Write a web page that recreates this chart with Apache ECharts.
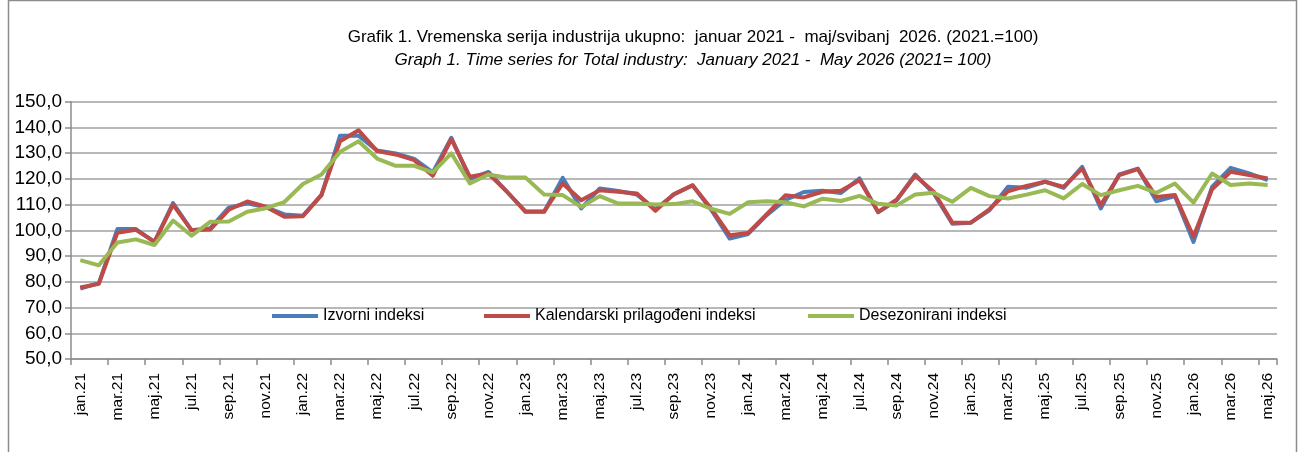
<!DOCTYPE html>
<html>
<head>
<meta charset="utf-8">
<script src="https://cdn.jsdelivr.net/npm/echarts@6/dist/echarts.min.js"></script>
<style>
html,body{margin:0;padding:0;background:#fff;}
#c{width:1302px;height:452px;}
</style>
</head>
<body>
<div id="c"></div>
<script>
const monthNames = ['jan','feb','mar','apr','maj','jun','jul','avg','sep','okt','nov','dec'];
const categories = [];
for (let y = 21; y <= 26; y++) {
  for (let m = 0; m < 12; m++) {
    if (y === 26 && m > 4) break;
    categories.push(monthNames[m] + '.' + y);
  }
}
const izvorni = [77.4,79.5,100.5,100.5,95.5,110.6,100.0,100.8,108.8,110.5,109.0,106.2,
  105.7,113.7,136.8,136.8,131.0,129.9,127.8,122.5,136.0,120.0,122.7,115.0,
  107.2,107.2,120.4,108.5,116.3,115.3,113.9,108.2,114.0,117.5,108.0,96.8,
  98.6,105.9,111.8,114.9,115.4,114.5,120.2,107.0,111.7,121.7,114.3,102.6,
  103.0,107.8,116.9,116.6,118.9,116.5,124.7,108.5,121.7,124.0,111.3,113.3,
  95.5,116.9,124.3,122.1,119.5];
const kalendarski = [77.8,79.2,99.1,100.2,95.5,110.0,100.0,100.3,108.0,111.2,109.2,105.3,
  105.5,113.8,134.6,138.9,130.8,129.5,127.3,121.2,135.5,120.8,122.1,115.0,
  107.3,107.3,118.2,111.7,115.6,115.0,114.3,107.6,114.1,117.5,108.5,98.1,
  99.0,106.3,113.6,112.8,115.0,115.4,119.5,107.2,111.9,121.2,115.0,103.0,
  103.0,108.2,115.2,117.3,118.9,116.9,124.0,109.8,121.5,123.8,113.0,113.7,
  97.5,116.0,122.8,121.5,120.2];
const desezonirani = [88.4,86.4,95.3,96.5,94.3,103.8,97.9,103.3,103.4,107.2,108.6,111.0,
  118.0,121.7,130.5,134.6,127.9,125.1,125.1,122.5,129.9,118.2,121.7,120.5,
  120.5,113.9,113.7,109.1,113.3,110.4,110.4,110.0,110.2,111.3,108.4,106.4,
  110.9,111.3,110.9,109.3,112.3,111.4,113.4,110.3,109.7,113.9,114.6,111.1,
  116.5,113.3,112.4,113.9,115.6,112.4,118.0,113.7,115.6,117.3,114.6,118.2,
  110.8,122.1,117.6,118.2,117.6];
const seriesNames = ['Izvorni indeksi','Kalendarski prilagođeni indeksi','Desezonirani indeksi'];
const titleLine1 = 'Grafik 1. Vremenska serija industrija ukupno:  januar 2021 -  maj/svibanj  2026. (2021.=100)';
const titleLine2 = 'Graph 1. Time series for Total industry:  January 2021 -  May 2026 (2021= 100)';

const FONT = "'Liberation Sans',Arial,sans-serif";
const colors = ['#4a7ebb','#be4b48','#98b954'];
const chart = echarts.init(document.getElementById('c'), null, {renderer:'canvas'});
const legendPos = [272, 484, 808];
chart.setOption({
  animation:false,
  backgroundColor:'#fff',
  title:[
    {text:titleLine1, left:688, top:24, textAlign:'center',
     textStyle:{fontFamily:FONT, fontSize:17, fontWeight:'normal', color:'#000'}},
    {text:titleLine2, left:688, top:47, textAlign:'center',
     textStyle:{fontFamily:FONT, fontSize:17, fontWeight:'normal', fontStyle:'italic', color:'#000'}}
  ],
  graphic:[{type:'rect', shape:{x:8.5,y:0.5,width:1288,height:470},
    style:{fill:'none', stroke:'#8c8c8c', lineWidth:1.5}, silent:true}],
  legend: seriesNames.map((n,i)=>({
    data:[n], left:legendPos[i], top:308, padding:0, icon:'rect', itemWidth:46, itemHeight:4,
    itemGap:4, textStyle:{fontFamily:FONT, fontSize:16, color:'#000'}
  })),
  grid:{left:71, right:25, top:101.7, bottom:93, containLabel:false},
  xAxis:{
    type:'category', data:categories, boundaryGap:true,
    axisLine:{lineStyle:{color:'#8c8c8c', width:1.5}},
    axisTick:{show:true, interval:1, length:6, lineStyle:{color:'#8c8c8c', width:1.5}},
    axisLabel:{interval:1, rotate:90, margin:14, fontFamily:FONT, fontSize:15.5, color:'#000'},
    splitLine:{show:false}
  },
  yAxis:{
    type:'value', min:50, max:150, interval:10,
    axisLine:{show:true, lineStyle:{color:'#8c8c8c', width:1.5}},
    axisTick:{show:true, length:6, lineStyle:{color:'#8c8c8c', width:1.5}},
    axisLabel:{margin:9, fontFamily:FONT, fontSize:19, color:'#000',
      formatter:v=>v.toFixed(1).replace('.',',')},
    splitLine:{lineStyle:{color:'#a0a0a0', width:1.5}}
  },
  series:[izvorni, kalendarski, desezonirani].map((d,i)=>({
    name:seriesNames[i], type:'line', data:d, symbol:'none', smooth:false,
    lineStyle:{color:colors[i], width:4, join:'round'}, itemStyle:{color:colors[i]},
    z:2+i
  }))
});
</script>
</body>
</html>
